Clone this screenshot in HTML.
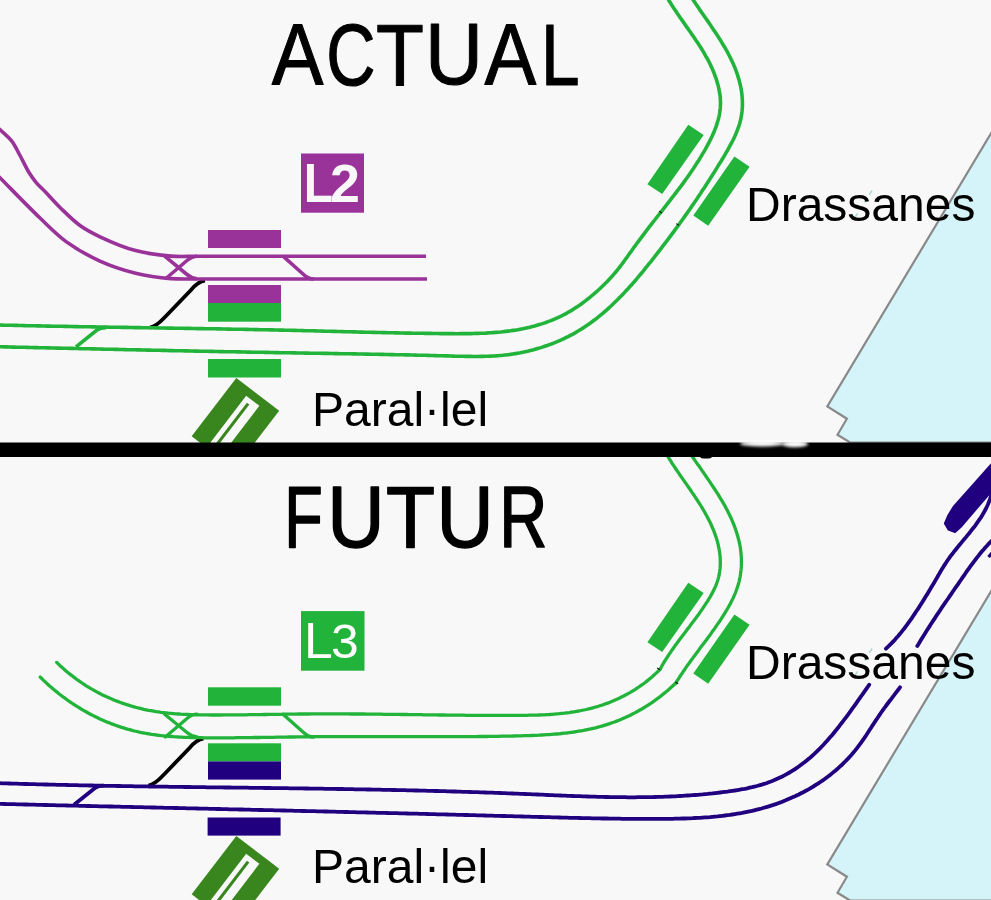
<!DOCTYPE html>
<html><head><meta charset="utf-8">
<style>
html,body{margin:0;padding:0;background:#f8f8f8;}
body{width:991px;height:900px;overflow:hidden;}
svg{display:block;will-change:transform;}
text{font-family:"Liberation Sans",sans-serif;}
</style></head>
<body>
<svg width="991" height="900" viewBox="0 0 991 900">
<defs>
  <g id="sea">
    <polygon points="993,130 827.3,406.4 846.9,418.7 837.5,434.8 850,442.5 993,442.5" fill="#d4f4fa" stroke="#898989" stroke-width="2.2"/>
  </g>
  <g id="drassPlat" fill="#22b33b">
    <polygon points="688.3,124.7 703.7,135 662.2,194 647.4,184.2"/>
    <polygon points="734.4,156.6 749.6,166.8 708.2,225.8 693.3,215.5"/>
  </g>
  <g id="icon">
    <g transform="translate(236.3,377.9) rotate(37.4)">
      <rect x="0" y="0" width="54" height="73.5" fill="#3a861e"/>
      <path d="M18.7 8.2 H35.3 V73.5 H26.6 V13.3 H23.5 V73.5 H18.7 Z" fill="#f8f8f8"/>
    </g>
  </g>
  <clipPath id="clipTop"><rect x="0" y="0" width="991" height="443"/></clipPath>
</defs>

<!-- ===== TOP HALF ===== -->
<use href="#sea"/>

<path d="M205 280.6 C199.5 281 196 284 191 290 L166 316 C161 321 157.5 326 150 327.6" fill="none" stroke="#000" stroke-width="3.8"/>
<g fill="none" stroke="#993399" stroke-width="3.6">
  <path d="M-3.0 127.0 C1.9 131.6 7.7 135.9 11.6 140.9 C15.2 145.5 17.2 150.4 20.0 155.5 C23.0 160.9 26.0 167.7 29.0 172.5 C31.4 176.3 33.4 179.2 36.0 182.3 C38.7 185.5 41.6 188.1 45.0 191.6 C49.4 196.2 54.5 202.1 60.0 207.5 C66.1 213.4 73.0 220.5 80.0 225.5 C86.4 230.1 92.2 233.1 100.0 236.8 C110.0 241.5 123.6 247.4 135.6 250.6 C147.3 253.7 159.8 255.2 171.1 256.1 C181.2 256.9 185.8 256.2 200.0 256.2 C239.7 256.3 350.7 256.2 426.0 256.2"/>
  <path d="M-3.0 174.7 C11.3 189.1 27.3 205.9 40.0 218.0 C49.6 227.2 56.5 234.6 66.1 241.6 C76.2 248.9 87.8 255.5 99.4 260.8 C111.0 266.1 123.5 270.2 135.6 273.2 C147.4 276.1 159.8 277.7 171.1 278.6 C181.2 279.4 185.8 278.9 200.0 279.0 C239.8 279.3 351.3 279.0 427.0 279.0"/>
  <path d="M164.7 256.2 L187 274.5 C190 277 193 278.6 197 278.8"/>
  <path d="M165.3 279 L187 260.5 C190 258 193 256.2 197 256.2"/>
  <path d="M283 256.2 L303 274 C306 277 309 279 314 279"/>
</g>

<g fill="none" stroke="#22b33b" stroke-width="3.6">
  <path d="M-3.0 325.0 L-0.5 325.0 L2.0 325.1 L4.5 325.2 L7.0 325.2 L9.5 325.3 L12.0 325.3 L14.5 325.4 L17.0 325.4 L19.5 325.5 L22.0 325.5 L24.5 325.6 L27.0 325.7 L29.5 325.7 L32.1 325.8 L34.6 325.8 L37.1 325.9 L39.6 325.9 L42.1 326.0 L44.6 326.0 L47.1 326.1 L49.6 326.1 L52.1 326.2 L54.6 326.2 L57.1 326.2 L59.6 326.3 L62.1 326.3 L64.6 326.4 L67.1 326.4 L69.6 326.5 L72.1 326.5 L74.6 326.6 L77.1 326.6 L79.7 326.7 L82.2 326.7 L84.7 326.7 L87.2 326.8 L89.7 326.8 L92.2 326.9 L94.7 326.9 L97.2 327.0 L99.7 327.0 L102.2 327.0 L104.7 327.1 L107.2 327.1 L109.7 327.2 L112.2 327.2 L114.7 327.2 L117.3 327.3 L119.8 327.3 L122.3 327.4 L124.8 327.4 L127.3 327.4 L129.8 327.5 L132.3 327.5 L134.8 327.6 L137.3 327.6 L139.8 327.6 L142.3 327.7 L144.8 327.7 L147.3 327.8 L149.8 327.8 L152.4 327.8 L154.9 327.9 L157.4 327.9 L159.9 328.0 L162.4 328.0 L164.9 328.0 L167.4 328.1 L169.9 328.1 L172.4 328.1 L174.9 328.2 L177.4 328.2 L179.9 328.3 L182.4 328.3 L184.9 328.4 L187.5 328.4 L190.0 328.4 L192.5 328.5 L195.0 328.5 L197.5 328.6 L200.0 328.6 L202.5 328.6 L205.0 328.7 L207.5 328.7 L210.0 328.8 L212.5 328.8 L215.0 328.8 L217.5 328.9 L220.0 328.9 L222.5 329.0 L225.1 329.0 L227.6 329.1 L230.1 329.1 L232.6 329.2 L235.1 329.2 L237.6 329.3 L240.1 329.3 L242.6 329.3 L245.1 329.4 L247.6 329.4 L250.1 329.5 L252.6 329.5 L255.1 329.6 L257.6 329.6 L260.1 329.7 L262.6 329.7 L265.1 329.8 L267.6 329.8 L270.1 329.9 L272.6 329.9 L275.2 330.0 L277.7 330.0 L280.2 330.1 L282.7 330.1 L285.2 330.2 L287.7 330.3 L290.2 330.3 L292.7 330.4 L295.2 330.4 L297.7 330.5 L300.2 330.5 L302.7 330.6 L305.2 330.7 L307.7 330.7 L310.2 330.8 L312.7 330.8 L315.2 330.9 L317.7 331.0 L320.2 331.0 L322.7 331.1 L325.2 331.2 L327.7 331.2 L330.2 331.3 L332.7 331.4 L335.2 331.4 L337.7 331.5 L340.2 331.5 L342.7 331.6 L345.2 331.7 L347.7 331.7 L350.2 331.8 L352.7 331.9 L355.2 331.9 L357.7 332.0 L360.2 332.1 L362.7 332.1 L365.2 332.2 L367.7 332.2 L370.2 332.3 L372.7 332.4 L375.2 332.4 L377.8 332.5 L380.3 332.5 L382.8 332.6 L385.3 332.6 L387.8 332.7 L390.3 332.8 L392.8 332.8 L395.3 332.9 L397.8 332.9 L400.3 333.0 L402.8 333.0 L405.3 333.1 L407.8 333.1 L410.3 333.1 L412.9 333.2 L415.4 333.2 L417.9 333.3 L420.4 333.3 L422.9 333.3 L425.4 333.4 L427.9 333.4 L430.5 333.4 L433.0 333.5 L435.5 333.5 L438.0 333.5 L440.5 333.6 L443.0 333.6 L445.6 333.6 L448.1 333.6 L450.6 333.6 L453.1 333.6 L455.6 333.7 L458.2 333.7 L460.7 333.6 L463.2 333.6 L465.7 333.6 L468.2 333.6 L470.8 333.6 L473.3 333.5 L475.8 333.4 L478.3 333.4 L480.8 333.3 L483.3 333.2 L485.8 333.1 L488.3 332.9 L490.8 332.8 L493.3 332.6 L495.8 332.4 L498.2 332.2 L500.7 332.0 L503.2 331.7 L505.6 331.4 L508.1 331.1 L510.6 330.8 L513.0 330.4 L515.4 330.1 L517.9 329.7 L520.3 329.2 L522.7 328.8 L525.1 328.3 L527.5 327.7 L529.9 327.2 L532.3 326.6 L534.7 326.0 L537.0 325.3 L539.4 324.6 L541.7 323.9 L544.1 323.1 L546.4 322.3 L548.7 321.4 L551.0 320.6 L553.3 319.6 L555.6 318.6 L557.8 317.6 L560.1 316.6 L562.3 315.5 L564.6 314.3 L566.8 313.1 L569.0 311.8 L571.2 310.6 L573.4 309.2 L575.5 307.8 L577.7 306.4 L579.8 305.0 L581.9 303.5 L584.0 301.9 L586.0 300.4 L588.1 298.8 L590.1 297.2 L592.1 295.5 L594.0 293.9 L596.0 292.2 L597.9 290.5 L599.8 288.7 L601.6 287.0 L603.4 285.2 L605.2 283.5 L607.0 281.7 L608.7 279.9 L610.4 278.1 L612.1 276.2 L613.7 274.4 L615.3 272.5 L616.9 270.6 L618.5 268.7 L620.0 266.7 L621.5 264.8 L622.9 262.8 L624.4 260.8 L625.8 258.8 L627.3 256.8 L628.7 254.8 L630.1 252.8 L631.6 250.8 L633.0 248.8 L634.4 246.8 L635.9 244.8 L637.3 242.8 L638.8 240.8 L640.3 238.8 L641.8 236.8 L643.3 234.8 L644.8 232.8 L646.3 230.8 L647.8 228.9 L649.3 226.9 L650.9 224.9 L652.4 222.9 L653.9 221.0 L655.5 219.0 L657.0 217.0 L658.6 215.0 L660.1 213.1 L661.7 211.1 L663.3 209.1 L664.8 207.1 L666.4 205.2 L667.9 203.2 L669.5 201.2 L671.0 199.2 L672.5 197.2 L674.1 195.2 L675.6 193.2 L677.1 191.2 L678.7 189.2 L680.2 187.2 L681.7 185.1 L683.2 183.1 L684.6 181.1 L686.1 179.0 L687.6 177.0 L689.0 174.9 L690.5 172.8 L691.9 170.7 L693.3 168.7 L694.7 166.6 L696.1 164.4 L697.4 162.3 L698.8 160.2 L700.1 158.1 L701.4 155.9 L702.7 153.7 L704.0 151.6 L705.3 149.4 L706.5 147.2 L707.7 144.9 L708.9 142.7 L710.0 140.5 L711.1 138.2 L712.2 136.0 L713.2 133.7 L714.2 131.4 L715.1 129.1 L716.0 126.8 L716.8 124.4 L717.5 122.1 L718.2 119.8 L718.8 117.4 L719.3 115.0 L719.7 112.7 L720.0 110.3 L720.3 107.9 L720.4 105.5 L720.5 103.1 L720.4 100.7 L720.3 98.2 L720.1 95.8 L719.7 93.4 L719.3 90.9 L718.8 88.5 L718.3 86.1 L717.6 83.7 L716.9 81.2 L716.2 78.8 L715.3 76.5 L714.4 74.1 L713.5 71.7 L712.5 69.4 L711.5 67.1 L710.4 64.8 L709.3 62.5 L708.1 60.2 L706.9 58.0 L705.6 55.8 L704.4 53.6 L703.1 51.4 L701.8 49.2 L700.4 47.1 L699.0 44.9 L697.7 42.8 L696.2 40.7 L694.8 38.6 L693.4 36.5 L691.9 34.4 L690.5 32.3 L689.0 30.2 L687.6 28.1 L686.1 26.1 L684.7 24.0 L683.2 21.9 L681.8 19.9 L680.3 17.8 L678.9 15.7 L677.5 13.7 L676.1 11.6 L674.7 9.5 L673.3 7.5 L672.0 5.4 L670.7 3.3 L669.4 1.2 L668.1 -0.9 L666.9 -3.0"/>
  <path d="M-3.0 346.7 L-0.5 346.8 L2.0 346.8 L4.5 346.9 L7.0 346.9 L9.5 347.0 L12.0 347.1 L14.5 347.1 L17.0 347.2 L19.6 347.2 L22.1 347.3 L24.6 347.3 L27.1 347.4 L29.6 347.5 L32.1 347.5 L34.6 347.6 L37.1 347.6 L39.6 347.7 L42.1 347.7 L44.6 347.8 L47.1 347.9 L49.6 347.9 L52.1 348.0 L54.6 348.0 L57.1 348.1 L59.6 348.1 L62.2 348.2 L64.7 348.3 L67.2 348.3 L69.7 348.4 L72.2 348.4 L74.7 348.5 L77.2 348.5 L79.7 348.6 L82.2 348.7 L84.7 348.7 L87.2 348.8 L89.7 348.8 L92.2 348.9 L94.7 348.9 L97.2 349.0 L99.7 349.0 L102.2 349.1 L104.7 349.2 L107.2 349.2 L109.7 349.3 L112.3 349.3 L114.8 349.4 L117.3 349.4 L119.8 349.5 L122.3 349.5 L124.8 349.6 L127.3 349.7 L129.8 349.7 L132.3 349.8 L134.8 349.8 L137.3 349.9 L139.8 349.9 L142.3 350.0 L144.8 350.0 L147.3 350.1 L149.8 350.1 L152.3 350.2 L154.8 350.2 L157.3 350.3 L159.9 350.3 L162.4 350.4 L164.9 350.4 L167.4 350.5 L169.9 350.6 L172.4 350.6 L174.9 350.7 L177.4 350.7 L179.9 350.8 L182.4 350.8 L184.9 350.9 L187.4 350.9 L189.9 351.0 L192.4 351.0 L194.9 351.1 L197.4 351.1 L199.9 351.2 L202.4 351.2 L204.9 351.3 L207.4 351.3 L210.0 351.4 L212.5 351.4 L215.0 351.5 L217.5 351.5 L220.0 351.6 L222.5 351.6 L225.0 351.7 L227.5 351.7 L230.0 351.7 L232.5 351.8 L235.0 351.8 L237.5 351.9 L240.0 351.9 L242.5 352.0 L245.0 352.0 L247.5 352.1 L250.0 352.1 L252.6 352.2 L255.1 352.2 L257.6 352.3 L260.1 352.3 L262.6 352.3 L265.1 352.4 L267.6 352.4 L270.1 352.5 L272.6 352.5 L275.1 352.6 L277.6 352.6 L280.1 352.7 L282.6 352.7 L285.1 352.7 L287.6 352.8 L290.1 352.8 L292.7 352.9 L295.2 352.9 L297.7 353.0 L300.2 353.0 L302.7 353.0 L305.2 353.1 L307.7 353.1 L310.2 353.2 L312.7 353.2 L315.2 353.2 L317.7 353.3 L320.2 353.3 L322.7 353.4 L325.2 353.4 L327.7 353.4 L330.3 353.5 L332.8 353.5 L335.3 353.6 L337.8 353.6 L340.3 353.7 L342.8 353.7 L345.3 353.7 L347.8 353.8 L350.3 353.8 L352.8 353.9 L355.3 353.9 L357.8 354.0 L360.3 354.0 L362.8 354.0 L365.3 354.1 L367.9 354.1 L370.4 354.2 L372.9 354.2 L375.4 354.3 L377.9 354.3 L380.4 354.4 L382.9 354.4 L385.4 354.5 L387.9 354.5 L390.4 354.6 L392.9 354.6 L395.4 354.7 L397.9 354.7 L400.4 354.8 L402.9 354.8 L405.4 354.9 L407.9 354.9 L410.4 355.0 L412.9 355.0 L415.5 355.1 L418.0 355.2 L420.5 355.2 L423.0 355.3 L425.5 355.3 L428.0 355.4 L430.5 355.5 L433.0 355.5 L435.5 355.6 L438.0 355.7 L440.5 355.7 L443.0 355.8 L445.5 355.9 L448.0 355.9 L450.5 356.0 L453.0 356.1 L455.5 356.2 L458.0 356.2 L460.5 356.3 L463.0 356.3 L465.5 356.4 L468.0 356.4 L470.5 356.4 L473.0 356.5 L475.5 356.5 L478.0 356.5 L480.5 356.4 L483.0 356.4 L485.5 356.3 L488.0 356.2 L490.5 356.1 L493.0 356.0 L495.5 355.9 L497.9 355.7 L500.4 355.5 L502.9 355.3 L505.4 355.0 L507.9 354.7 L510.4 354.4 L512.9 354.0 L515.4 353.6 L517.8 353.2 L520.3 352.8 L522.8 352.3 L525.3 351.7 L527.7 351.2 L530.2 350.6 L532.7 350.0 L535.1 349.3 L537.5 348.6 L540.0 347.9 L542.4 347.1 L544.8 346.3 L547.2 345.5 L549.6 344.6 L551.9 343.8 L554.3 342.8 L556.6 341.9 L559.0 340.9 L561.3 339.9 L563.6 338.8 L565.8 337.7 L568.1 336.6 L570.3 335.4 L572.5 334.3 L574.7 333.1 L576.9 331.8 L579.0 330.5 L581.1 329.2 L583.2 327.9 L585.3 326.5 L587.4 325.1 L589.4 323.7 L591.4 322.3 L593.4 320.8 L595.4 319.3 L597.3 317.8 L599.3 316.2 L601.2 314.7 L603.1 313.1 L605.0 311.4 L606.8 309.8 L608.7 308.1 L610.5 306.5 L612.3 304.8 L614.1 303.0 L615.9 301.3 L617.7 299.6 L619.4 297.8 L621.2 296.0 L622.9 294.2 L624.6 292.4 L626.3 290.5 L628.0 288.7 L629.7 286.8 L631.4 285.0 L633.0 283.1 L634.7 281.2 L636.3 279.3 L637.9 277.4 L639.6 275.4 L641.2 273.5 L642.8 271.6 L644.4 269.6 L645.9 267.7 L647.5 265.7 L649.1 263.7 L650.7 261.8 L652.2 259.8 L653.8 257.8 L655.3 255.8 L656.9 253.9 L658.4 251.9 L660.0 249.9 L661.5 247.9 L663.0 245.9 L664.5 243.9 L666.1 241.9 L667.6 239.9 L669.1 237.9 L670.6 235.9 L672.1 233.9 L673.6 231.9 L675.0 229.9 L676.5 227.8 L678.0 225.8 L679.5 223.8 L680.9 221.8 L682.4 219.7 L683.8 217.7 L685.3 215.6 L686.7 213.6 L688.2 211.5 L689.6 209.5 L691.0 207.4 L692.4 205.4 L693.9 203.3 L695.3 201.2 L696.7 199.2 L698.1 197.1 L699.5 195.0 L700.9 192.9 L702.2 190.8 L703.6 188.7 L705.0 186.7 L706.4 184.5 L707.7 182.4 L709.1 180.3 L710.4 178.2 L711.8 176.1 L713.1 174.0 L714.5 171.9 L715.8 169.7 L717.1 167.6 L718.4 165.4 L719.7 163.3 L721.1 161.2 L722.4 159.0 L723.7 156.8 L725.0 154.7 L726.2 152.5 L727.5 150.3 L728.7 148.1 L729.9 145.9 L731.1 143.7 L732.3 141.5 L733.4 139.3 L734.5 137.1 L735.5 134.8 L736.4 132.6 L737.3 130.3 L738.2 128.0 L739.0 125.7 L739.7 123.4 L740.3 121.0 L740.9 118.7 L741.3 116.3 L741.7 113.9 L742.0 111.5 L742.2 109.1 L742.4 106.6 L742.4 104.2 L742.4 101.7 L742.3 99.3 L742.1 96.8 L741.9 94.3 L741.6 91.9 L741.2 89.4 L740.7 87.0 L740.2 84.5 L739.6 82.1 L738.9 79.6 L738.2 77.2 L737.5 74.8 L736.7 72.5 L735.8 70.1 L734.9 67.7 L733.9 65.4 L732.9 63.1 L731.8 60.8 L730.7 58.5 L729.6 56.2 L728.4 54.0 L727.2 51.7 L725.9 49.5 L724.7 47.2 L723.3 45.0 L722.0 42.8 L720.7 40.6 L719.3 38.5 L717.9 36.3 L716.5 34.1 L715.1 32.0 L713.7 29.9 L712.2 27.8 L710.8 25.6 L709.4 23.5 L707.9 21.4 L706.5 19.4 L705.0 17.3 L703.6 15.2 L702.2 13.2 L700.7 11.1 L699.3 9.1 L698.0 7.1 L696.6 5.0 L695.2 3.0 L693.9 1.0 L692.6 -1.0 L691.3 -3.0"/>
  <path d="M106 327.6 C101 327.6 99 328.5 97 330 L76 346.8"/>
</g>

<rect x="208" y="230" width="73" height="18" fill="#993399"/>
<rect x="208" y="285" width="73" height="18" fill="#993399"/>
<rect x="208" y="303" width="73" height="18.7" fill="#22b33b"/>
<rect x="208" y="359" width="73" height="18.5" fill="#22b33b"/>
<use href="#drassPlat"/>

<rect x="301" y="153.5" width="63" height="59.2" fill="#993399"/>
<text transform="translate(303.69,201.90) scale(0.4794,0.5480)" font-size="100" font-weight="bold" fill="#f8f8f8">L</text><text transform="translate(329.93,201.90) scale(0.5380,0.5399)" font-size="100" font-weight="bold" fill="#f8f8f8">2</text>

<g clip-path="url(#clipTop)"><use href="#icon"/></g>

<g stroke="#a6ddd6" stroke-width="1.6" stroke-dasharray="5 4" fill="none">
  <path d="M872 190.5 L855 217.5"/>
  <path d="M872 648.5 L855 675.5"/>
</g>
<text transform="translate(271.85,84.70) scale(0.7752,0.8765)" font-size="100" fill="#000" stroke="#000" stroke-width="1.211" stroke-linejoin="round">A</text>
<text transform="translate(326.34,84.65) scale(0.6821,0.8743)" font-size="100" fill="#000" stroke="#000" stroke-width="1.285" stroke-linejoin="round">C</text>
<text transform="translate(375.94,84.50) scale(0.7852,0.8721)" font-size="100" fill="#000" stroke="#000" stroke-width="1.207" stroke-linejoin="round">T</text>
<text transform="translate(425.10,84.45) scale(0.8030,0.8742)" font-size="100" fill="#000" stroke="#000" stroke-width="1.192" stroke-linejoin="round">U</text>
<text transform="translate(484.45,84.50) scale(0.7767,0.8736)" font-size="100" fill="#000" stroke="#000" stroke-width="1.212" stroke-linejoin="round">A</text>
<text transform="translate(541.01,84.50) scale(0.6940,0.8750)" font-size="100" fill="#000" stroke="#000" stroke-width="1.275" stroke-linejoin="round">L</text>
<text x="746" y="221.2" font-size="48" fill="#000">Drassanes</text>
<text x="312" y="425.5" font-size="48" fill="#000">Paral·lel</text>

<!-- ===== BOTTOM HALF ===== -->
<path d="M205 280.6 C199.5 281 196 284 191 290 L166 316 C161 321 157.5 326 150 327.6" transform="translate(-1.5,458)" fill="none" stroke="#000" stroke-width="3.8"/>
<g fill="none" stroke="#20007f" stroke-width="3.8">
  <path d="M-3.0 783.1 L-0.5 783.2 L2.0 783.3 L4.5 783.4 L7.0 783.4 L9.5 783.5 L12.0 783.6 L14.5 783.7 L17.0 783.7 L19.5 783.8 L22.0 783.9 L24.5 784.0 L27.0 784.0 L29.5 784.1 L32.1 784.2 L34.6 784.2 L37.1 784.3 L39.6 784.4 L42.1 784.4 L44.6 784.5 L47.1 784.5 L49.6 784.6 L52.1 784.7 L54.6 784.7 L57.1 784.8 L59.6 784.8 L62.1 784.9 L64.6 784.9 L67.1 785.0 L69.6 785.1 L72.1 785.1 L74.6 785.2 L77.1 785.2 L79.6 785.3 L82.1 785.3 L84.6 785.4 L87.1 785.4 L89.6 785.5 L92.1 785.5 L94.6 785.6 L97.1 785.6 L99.6 785.7 L102.1 785.7 L104.7 785.8 L107.2 785.8 L109.7 785.8 L112.2 785.9 L114.7 785.9 L117.2 786.0 L119.7 786.0 L122.2 786.1 L124.7 786.1 L127.2 786.1 L129.7 786.2 L132.2 786.2 L134.7 786.3 L137.2 786.3 L139.7 786.3 L142.2 786.4 L144.7 786.4 L147.2 786.4 L149.7 786.5 L152.2 786.5 L154.7 786.6 L157.2 786.6 L159.7 786.6 L162.2 786.7 L164.7 786.7 L167.2 786.7 L169.7 786.8 L172.2 786.8 L174.7 786.8 L177.2 786.9 L179.7 786.9 L182.2 786.9 L184.7 787.0 L187.2 787.0 L189.7 787.0 L192.3 787.1 L194.8 787.1 L197.3 787.1 L199.8 787.2 L202.3 787.2 L204.8 787.2 L207.3 787.3 L209.8 787.3 L212.3 787.3 L214.8 787.3 L217.3 787.4 L219.8 787.4 L222.3 787.4 L224.8 787.5 L227.3 787.5 L229.8 787.5 L232.3 787.6 L234.8 787.6 L237.3 787.6 L239.8 787.7 L242.3 787.7 L244.8 787.7 L247.3 787.7 L249.8 787.8 L252.3 787.8 L254.8 787.8 L257.3 787.9 L259.8 787.9 L262.3 787.9 L264.8 788.0 L267.3 788.0 L269.8 788.0 L272.3 788.1 L274.8 788.1 L277.3 788.1 L279.8 788.1 L282.3 788.2 L284.8 788.2 L287.3 788.2 L289.9 788.3 L292.4 788.3 L294.9 788.3 L297.4 788.4 L299.9 788.4 L302.4 788.4 L304.9 788.5 L307.4 788.5 L309.9 788.6 L312.4 788.6 L314.9 788.6 L317.4 788.7 L319.9 788.7 L322.4 788.7 L324.9 788.8 L327.4 788.8 L329.9 788.8 L332.4 788.9 L334.9 788.9 L337.4 789.0 L339.9 789.0 L342.4 789.0 L344.9 789.1 L347.4 789.1 L349.9 789.2 L352.4 789.2 L354.9 789.3 L357.4 789.3 L359.9 789.3 L362.4 789.4 L364.9 789.4 L367.4 789.5 L369.9 789.5 L372.4 789.6 L374.9 789.6 L377.4 789.7 L379.9 789.7 L382.4 789.8 L384.9 789.8 L387.4 789.9 L390.0 789.9 L392.5 790.0 L395.0 790.0 L397.5 790.1 L400.0 790.1 L402.5 790.2 L405.0 790.2 L407.5 790.3 L410.0 790.4 L412.5 790.4 L415.0 790.5 L417.5 790.5 L420.0 790.6 L422.5 790.7 L425.0 790.7 L427.5 790.8 L430.0 790.8 L432.5 790.9 L435.0 791.0 L437.5 791.0 L440.0 791.1 L442.5 791.2 L445.0 791.2 L447.5 791.3 L450.0 791.4 L452.5 791.5 L455.0 791.5 L457.5 791.6 L460.0 791.7 L462.5 791.8 L465.0 791.8 L467.5 791.9 L470.0 792.0 L472.5 792.1 L475.0 792.1 L477.6 792.2 L480.1 792.3 L482.6 792.4 L485.1 792.5 L487.6 792.6 L490.1 792.7 L492.6 792.7 L495.1 792.8 L497.6 792.9 L500.1 793.0 L502.6 793.1 L505.1 793.2 L507.6 793.3 L510.1 793.4 L512.6 793.5 L515.1 793.6 L517.6 793.7 L520.1 793.8 L522.6 793.9 L525.1 794.0 L527.6 794.1 L530.1 794.2 L532.6 794.3 L535.1 794.4 L537.6 794.5 L540.1 794.6 L542.6 794.7 L545.1 794.9 L547.6 795.0 L550.1 795.1 L552.7 795.2 L555.2 795.3 L557.7 795.4 L560.2 795.5 L562.7 795.6 L565.2 795.7 L567.7 795.8 L570.2 795.9 L572.7 796.0 L575.2 796.1 L577.7 796.2 L580.2 796.2 L582.7 796.3 L585.2 796.4 L587.7 796.5 L590.2 796.6 L592.7 796.6 L595.2 796.7 L597.7 796.8 L600.2 796.8 L602.7 796.9 L605.2 797.0 L607.7 797.0 L610.2 797.1 L612.7 797.1 L615.2 797.1 L617.7 797.2 L620.2 797.2 L622.7 797.2 L625.2 797.2 L627.7 797.3 L630.2 797.3 L632.7 797.3 L635.2 797.3 L637.7 797.2 L640.2 797.2 L642.7 797.2 L645.2 797.2 L647.7 797.1 L650.2 797.1 L652.7 797.1 L655.2 797.0 L657.7 796.9 L660.2 796.9 L662.7 796.8 L665.2 796.7 L667.7 796.6 L670.2 796.5 L672.7 796.4 L675.2 796.3 L677.6 796.1 L680.1 796.0 L682.6 795.9 L685.1 795.7 L687.6 795.5 L690.1 795.4 L692.6 795.2 L695.1 795.0 L697.6 794.8 L700.1 794.6 L702.6 794.4 L705.1 794.1 L707.6 793.9 L710.0 793.6 L712.5 793.4 L715.0 793.1 L717.5 792.8 L720.0 792.5 L722.5 792.2 L725.0 791.9 L727.5 791.6 L729.9 791.2 L732.4 790.8 L734.9 790.5 L737.4 790.1 L739.9 789.7 L742.3 789.2 L744.8 788.8 L747.2 788.3 L749.7 787.7 L752.1 787.2 L754.5 786.6 L756.9 786.0 L759.3 785.3 L761.7 784.7 L764.0 783.9 L766.4 783.2 L768.7 782.3 L771.0 781.5 L773.3 780.6 L775.6 779.6 L777.8 778.6 L780.0 777.6 L782.3 776.5 L784.4 775.4 L786.6 774.2 L788.7 773.0 L790.9 771.7 L793.0 770.4 L795.0 769.1 L797.1 767.7 L799.1 766.3 L801.1 764.8 L803.1 763.3 L805.1 761.8 L807.0 760.2 L809.0 758.6 L810.9 757.0 L812.7 755.3 L814.6 753.6 L816.4 751.9 L818.2 750.1 L820.0 748.4 L821.8 746.5 L823.5 744.7 L825.2 742.8 L826.9 741.0 L828.6 739.0 L830.3 737.1 L832.0 735.2 L833.6 733.2 L835.2 731.2 L836.8 729.3 L838.4 727.3 L840.0 725.2 L841.5 723.2 L843.1 721.2 L844.6 719.2 L846.2 717.1 L847.7 715.1 L849.2 713.0 L850.7 711.0 L852.1 708.9 L853.6 706.9 L855.1 704.8 L856.5 702.8 L858.0 700.7 L859.4 698.7 L860.8 696.6 L862.3 694.6 L863.7 692.6 L865.1 690.6 L866.5 688.6 L867.9 686.7 L869.3 684.7" stroke-linecap="round"/>
  <path d="M886.0 648.7 L887.8 647.0 L889.6 645.2 L891.4 643.4 L893.1 641.6 L894.9 639.7 L896.5 637.8 L898.2 636.0 L899.8 634.0 L901.4 632.1 L902.9 630.1 L904.5 628.2 L906.0 626.2 L907.5 624.2 L908.9 622.2 L910.4 620.1 L911.8 618.1 L913.2 616.0 L914.6 613.9 L916.0 611.8 L917.4 609.7 L918.8 607.6 L920.1 605.5 L921.5 603.4 L922.8 601.3 L924.1 599.2 L925.4 597.0 L926.8 594.9 L928.1 592.7 L929.4 590.6 L930.6 588.5 L931.9 586.3 L933.2 584.2 L934.5 582.0 L935.7 579.9 L937.0 577.7 L938.2 575.5 L939.5 573.4 L940.7 571.2 L942.0 569.1 L943.3 567.0 L944.6 564.9 L946.0 562.8 L947.3 560.7 L948.8 558.7 L950.2 556.7 L951.7 554.7 L953.3 552.7 L954.8 550.7 L956.4 548.7 L958.0 546.8 L959.6 544.8 L961.2 542.9 L962.8 540.9 L964.4 539.0 L966.0 537.1 L967.6 535.1 L969.2 533.2 L970.8 531.2 L972.3 529.2 L973.9 527.3 L975.4 525.3 L976.9 523.2 L978.3 521.2 L979.7 519.2 L981.1 517.1 L982.4 515.0 L983.6 512.8 L984.8 510.7 L986.0 508.5 L987.1 506.3 L988.1 504.0 L989.0 501.7 L989.9 499.3 L990.7 496.9 L991.4 494.5 L992.0 492.0" stroke-linecap="round"/>
  <path d="M-3.0 803.8 L-0.5 803.9 L2.0 803.9 L4.5 804.0 L7.0 804.1 L9.5 804.1 L12.0 804.2 L14.5 804.2 L17.0 804.3 L19.5 804.4 L22.0 804.4 L24.5 804.5 L27.0 804.5 L29.5 804.6 L32.0 804.7 L34.5 804.7 L37.0 804.8 L39.5 804.8 L42.0 804.9 L44.5 805.0 L47.0 805.0 L49.5 805.1 L52.0 805.1 L54.5 805.2 L57.0 805.3 L59.5 805.3 L62.0 805.4 L64.5 805.4 L67.0 805.5 L69.5 805.6 L72.0 805.6 L74.5 805.7 L77.0 805.7 L79.5 805.8 L82.0 805.8 L84.5 805.9 L87.0 806.0 L89.5 806.0 L92.0 806.1 L94.5 806.1 L97.0 806.2 L99.5 806.3 L102.0 806.3 L104.5 806.4 L107.0 806.4 L109.5 806.5 L112.0 806.5 L114.5 806.6 L117.0 806.7 L119.5 806.7 L122.0 806.8 L124.5 806.8 L127.0 806.9 L129.5 806.9 L132.0 807.0 L134.5 807.1 L137.0 807.1 L139.5 807.2 L142.0 807.2 L144.5 807.3 L147.0 807.4 L149.5 807.4 L152.0 807.5 L154.5 807.5 L157.0 807.6 L159.5 807.6 L162.0 807.7 L164.5 807.8 L167.0 807.8 L169.5 807.9 L172.1 807.9 L174.6 808.0 L177.1 808.0 L179.6 808.1 L182.1 808.2 L184.6 808.2 L187.1 808.3 L189.6 808.3 L192.1 808.4 L194.6 808.4 L197.1 808.5 L199.6 808.6 L202.1 808.6 L204.6 808.7 L207.1 808.7 L209.6 808.8 L212.1 808.9 L214.6 808.9 L217.1 809.0 L219.6 809.0 L222.1 809.1 L224.6 809.1 L227.1 809.2 L229.6 809.3 L232.1 809.3 L234.6 809.4 L237.1 809.4 L239.6 809.5 L242.1 809.5 L244.6 809.6 L247.1 809.7 L249.6 809.7 L252.1 809.8 L254.6 809.8 L257.1 809.9 L259.6 810.0 L262.1 810.0 L264.6 810.1 L267.2 810.1 L269.7 810.2 L272.2 810.2 L274.7 810.3 L277.2 810.4 L279.7 810.4 L282.2 810.5 L284.7 810.5 L287.2 810.6 L289.7 810.7 L292.2 810.7 L294.7 810.8 L297.2 810.8 L299.7 810.9 L302.2 811.0 L304.7 811.0 L307.2 811.1 L309.7 811.1 L312.2 811.2 L314.7 811.2 L317.2 811.3 L319.7 811.4 L322.2 811.4 L324.7 811.5 L327.2 811.5 L329.7 811.6 L332.2 811.7 L334.7 811.7 L337.2 811.8 L339.7 811.8 L342.2 811.9 L344.7 812.0 L347.2 812.0 L349.7 812.1 L352.2 812.1 L354.7 812.2 L357.2 812.3 L359.7 812.3 L362.2 812.4 L364.7 812.4 L367.2 812.5 L369.7 812.6 L372.2 812.6 L374.7 812.7 L377.2 812.8 L379.7 812.8 L382.2 812.9 L384.7 812.9 L387.2 813.0 L389.7 813.1 L392.2 813.1 L394.7 813.2 L397.2 813.2 L399.7 813.3 L402.2 813.4 L404.7 813.4 L407.2 813.5 L409.7 813.6 L412.2 813.6 L414.7 813.7 L417.2 813.7 L419.7 813.8 L422.2 813.9 L424.7 813.9 L427.2 814.0 L429.7 814.1 L432.2 814.1 L434.7 814.2 L437.2 814.3 L439.7 814.3 L442.2 814.4 L444.7 814.4 L447.2 814.5 L449.7 814.6 L452.2 814.6 L454.7 814.7 L457.2 814.8 L459.7 814.8 L462.2 814.9 L464.7 815.0 L467.2 815.0 L469.7 815.1 L472.2 815.2 L474.7 815.2 L477.2 815.3 L479.7 815.4 L482.2 815.4 L484.7 815.5 L487.2 815.6 L489.7 815.6 L492.2 815.7 L494.7 815.8 L497.2 815.8 L499.7 815.9 L502.2 816.0 L504.7 816.0 L507.2 816.1 L509.7 816.2 L512.2 816.2 L514.7 816.3 L517.2 816.4 L519.7 816.4 L522.2 816.5 L524.7 816.6 L527.2 816.6 L529.6 816.7 L532.1 816.8 L534.6 816.8 L537.1 816.9 L539.6 817.0 L542.1 817.0 L544.6 817.1 L547.1 817.2 L549.6 817.2 L552.1 817.3 L554.6 817.4 L557.1 817.4 L559.6 817.5 L562.1 817.6 L564.6 817.6 L567.1 817.7 L569.6 817.8 L572.1 817.8 L574.6 817.9 L577.1 817.9 L579.6 818.0 L582.1 818.1 L584.6 818.1 L587.1 818.2 L589.6 818.2 L592.1 818.3 L594.6 818.3 L597.1 818.4 L599.6 818.4 L602.1 818.5 L604.6 818.5 L607.1 818.5 L609.6 818.6 L612.1 818.6 L614.6 818.7 L617.1 818.7 L619.6 818.7 L622.1 818.8 L624.6 818.8 L627.1 818.8 L629.6 818.8 L632.1 818.8 L634.6 818.9 L637.1 818.9 L639.7 818.9 L642.2 818.9 L644.7 818.9 L647.2 818.9 L649.7 818.9 L652.2 818.9 L654.7 818.9 L657.3 818.9 L659.8 818.9 L662.3 818.9 L664.8 818.9 L667.3 818.8 L669.9 818.8 L672.4 818.8 L674.9 818.7 L677.4 818.7 L679.9 818.6 L682.4 818.5 L685.0 818.5 L687.5 818.4 L690.0 818.3 L692.5 818.2 L695.0 818.0 L697.5 817.9 L700.0 817.8 L702.5 817.6 L705.0 817.4 L707.5 817.3 L710.0 817.1 L712.5 816.8 L715.0 816.6 L717.5 816.4 L720.0 816.1 L722.5 815.8 L724.9 815.5 L727.4 815.2 L729.9 814.9 L732.4 814.5 L734.8 814.1 L737.3 813.7 L739.7 813.3 L742.2 812.9 L744.6 812.4 L747.0 811.9 L749.5 811.4 L751.9 810.9 L754.3 810.3 L756.7 809.7 L759.1 809.1 L761.5 808.5 L763.9 807.8 L766.3 807.1 L768.7 806.4 L771.1 805.6 L773.4 804.9 L775.8 804.1 L778.2 803.2 L780.5 802.4 L782.8 801.5 L785.1 800.6 L787.4 799.6 L789.7 798.6 L792.0 797.6 L794.3 796.6 L796.6 795.5 L798.8 794.5 L801.0 793.3 L803.2 792.2 L805.4 791.0 L807.6 789.8 L809.8 788.6 L811.9 787.3 L814.1 786.0 L816.2 784.7 L818.3 783.4 L820.3 782.0 L822.4 780.6 L824.4 779.2 L826.4 777.7 L828.4 776.2 L830.4 774.7 L832.3 773.1 L834.2 771.6 L836.1 770.0 L838.0 768.3 L839.8 766.7 L841.7 765.0 L843.5 763.2 L845.2 761.5 L847.0 759.7 L848.7 757.9 L850.4 756.1 L852.0 754.2 L853.6 752.3 L855.2 750.4 L856.8 748.4 L858.3 746.4 L859.8 744.4 L861.3 742.4 L862.7 740.3 L864.1 738.3 L865.6 736.2 L867.0 734.1 L868.3 731.9 L869.7 729.8 L871.1 727.7 L872.4 725.6 L873.8 723.5 L875.2 721.4 L876.6 719.3 L878.0 717.2 L879.4 715.1 L880.8 713.0 L882.2 711.0 L883.7 709.0 L885.1 707.0 L886.6 705.0 L888.1 703.0 L889.6 701.0 L891.1 699.1 L892.6 697.1 L894.1 695.2 L895.6 693.2 L897.1 691.2 L898.6 689.3 L900.0 687.3" stroke-linecap="round"/>
  <path d="M917.3 646.0 L918.6 643.9 L919.9 641.7 L921.2 639.6 L922.5 637.5 L923.9 635.3 L925.2 633.2 L926.5 631.1 L927.8 629.0 L929.2 626.9 L930.5 624.8 L931.8 622.7 L933.2 620.6 L934.6 618.6 L935.9 616.5 L937.3 614.4 L938.7 612.4 L940.1 610.3 L941.4 608.2 L942.8 606.2 L944.2 604.1 L945.6 602.1 L947.1 600.0 L948.5 598.0 L949.9 595.9 L951.3 593.9 L952.7 591.8 L954.1 589.7 L955.5 587.7 L957.0 585.6 L958.4 583.6 L959.8 581.5 L961.2 579.5 L962.6 577.4 L964.1 575.3 L965.5 573.3 L966.9 571.2 L968.4 569.2 L969.8 567.1 L971.3 565.1 L972.8 563.1 L974.3 561.1 L975.8 559.1 L977.3 557.1 L978.9 555.2 L980.4 553.2 L982.0 551.3 L983.7 549.4 L985.3 547.5 L987.0 545.7 L988.7 543.8 L990.4 542.0 L992.2 540.3 L994.0 538.5" stroke-linecap="round"/>
  <path d="M106 327.6 C101 327.6 99 328.5 97 330 L76 346.8" transform="translate(-2,458)"/>
</g>
<g transform="translate(0,458)"><use href="#sea"/></g>
<path d="M945 523.5 L948.2 515.8 L953.6 507 L994 461.5 L994 488 L960.5 527 L955 532 L948.5 529.5 Z" fill="#20007f" stroke="#20007f" stroke-width="2.2" stroke-linejoin="round"/>
<path d="M988.5 557 L992 553" stroke="#20007f" stroke-width="3.4"/>

<g fill="none" stroke="#22b33b" stroke-width="3.3" stroke-linejoin="round" stroke-linecap="round">
  <path d="M56.7 662.4 L58.5 664.1 L60.3 665.9 L62.2 667.6 L64.1 669.2 L66.0 670.9 L67.9 672.5 L69.9 674.1 L71.9 675.6 L73.8 677.2 L75.9 678.7 L77.9 680.2 L80.0 681.6 L82.0 683.0 L84.1 684.4 L86.2 685.8 L88.4 687.1 L90.5 688.4 L92.7 689.6 L94.9 690.9 L97.1 692.1 L99.3 693.2 L101.5 694.4 L103.8 695.5 L106.0 696.6 L108.3 697.6 L110.6 698.6 L112.9 699.6 L115.2 700.5 L117.5 701.4 L119.9 702.3 L122.2 703.1 L124.6 703.9 L126.9 704.7 L129.3 705.4 L131.7 706.2 L134.1 706.8 L136.5 707.5 L138.9 708.1 L141.3 708.7 L143.8 709.3 L146.2 709.8 L148.6 710.3 L151.1 710.7 L153.6 711.2 L156.0 711.6 L158.5 711.9 L160.9 712.3 L163.4 712.6 L165.9 712.9 L168.4 713.2 L170.9 713.4 L173.4 713.6 L175.8 713.8 L178.3 714.0 L180.8 714.2 L183.3 714.3 L185.8 714.4 L188.3 714.5 L190.9 714.6 L193.4 714.7 L195.9 714.8 L198.4 714.8 L200.9 714.9 L203.4 714.9 L205.9 714.9 L208.4 714.9 L210.9 715.0 L213.5 715.0 L216.0 715.0 L218.5 715.0 L221.0 715.0 L223.5 714.9 L226.0 714.9 L228.5 714.9 L231.1 714.9 L233.6 714.9 L236.1 714.9 L238.6 714.8 L241.1 714.8 L243.6 714.8 L246.1 714.8 L248.6 714.7 L251.1 714.7 L253.6 714.7 L256.2 714.6 L258.7 714.6 L261.2 714.6 L263.7 714.5 L266.2 714.5 L268.7 714.4 L271.2 714.4 L273.7 714.4 L276.2 714.3 L278.7 714.3 L281.2 714.3 L283.7 714.2 L286.2 714.2 L288.7 714.2 L291.3 714.1 L293.8 714.1 L296.3 714.1 L298.8 714.0 L301.3 714.0 L303.8 714.0 L306.3 714.0 L308.8 714.0 L311.3 713.9 L313.8 713.9 L316.3 713.9 L318.8 713.9 L321.3 713.9 L323.8 713.9 L326.3 713.9 L328.8 713.9 L331.3 713.9 L333.8 713.9 L336.3 713.9 L338.8 713.9 L341.3 713.9 L343.8 713.9 L346.3 713.9 L348.8 713.9 L351.3 714.0 L353.8 714.0 L356.4 714.0 L358.9 714.0 L361.4 714.0 L363.9 714.0 L366.4 714.1 L368.9 714.1 L371.4 714.1 L373.9 714.1 L376.4 714.2 L378.9 714.2 L381.4 714.2 L383.9 714.3 L386.4 714.3 L388.9 714.3 L391.4 714.3 L393.9 714.4 L396.4 714.4 L398.9 714.4 L401.4 714.5 L403.9 714.5 L406.4 714.5 L408.9 714.6 L411.4 714.6 L413.9 714.6 L416.4 714.7 L418.9 714.7 L421.4 714.7 L423.9 714.8 L426.5 714.8 L429.0 714.8 L431.5 714.9 L434.0 714.9 L436.5 714.9 L439.0 715.0 L441.5 715.0 L444.0 715.0 L446.5 715.1 L449.0 715.1 L451.5 715.1 L454.0 715.1 L456.5 715.2 L459.0 715.2 L461.5 715.2 L464.0 715.2 L466.6 715.3 L469.1 715.3 L471.6 715.3 L474.1 715.3 L476.6 715.3 L479.1 715.4 L481.6 715.4 L484.1 715.4 L486.6 715.4 L489.1 715.4 L491.7 715.4 L494.2 715.4 L496.7 715.4 L499.2 715.4 L501.7 715.4 L504.2 715.4 L506.7 715.4 L509.2 715.4 L511.7 715.4 L514.3 715.4 L516.8 715.4 L519.3 715.4 L521.8 715.4 L524.3 715.3 L526.8 715.3 L529.3 715.2 L531.9 715.2 L534.4 715.1 L536.9 715.1 L539.4 715.0 L541.9 714.9 L544.4 714.8 L546.9 714.6 L549.4 714.5 L551.9 714.3 L554.3 714.1 L556.8 713.9 L559.3 713.7 L561.8 713.4 L564.3 713.2 L566.7 712.9 L569.2 712.6 L571.6 712.2 L574.1 711.8 L576.5 711.4 L579.0 711.0 L581.4 710.5 L583.8 710.0 L586.3 709.5 L588.7 708.9 L591.1 708.3 L593.5 707.7 L595.9 707.0 L598.2 706.3 L600.6 705.5 L603.0 704.8 L605.3 703.9 L607.7 703.1 L610.0 702.2 L612.3 701.2 L614.6 700.2 L616.9 699.2 L619.2 698.2 L621.4 697.1 L623.7 696.0 L625.9 694.8 L628.1 693.6 L630.3 692.4 L632.4 691.1 L634.6 689.8 L636.7 688.4 L638.8 687.0 L640.8 685.6 L642.9 684.2 L644.9 682.7 L646.9 681.1 L648.8 679.6 L650.8 677.9 L652.7 676.3 L654.6 674.6 L656.4 672.9 L658.2 671.2 L660.0 669.4"/>
  <path d="M660.0 669.4 L661.2 667.2 L662.4 665.0 L663.7 662.9 L665.0 660.7 L666.3 658.6 L667.7 656.5 L669.1 654.4 L670.5 652.3 L671.9 650.2 L673.3 648.2 L674.8 646.1 L676.3 644.1 L677.8 642.0 L679.3 640.0 L680.8 638.0 L682.3 636.0 L683.9 633.9 L685.4 631.9 L686.9 629.9 L688.5 627.9 L690.0 625.9 L691.5 623.8 L693.1 621.8 L694.6 619.8 L696.1 617.8 L697.6 615.7 L699.1 613.7 L700.5 611.6 L702.0 609.5 L703.4 607.4 L704.8 605.3 L706.2 603.2 L707.6 601.1 L708.9 598.9 L710.2 596.8 L711.4 594.6 L712.6 592.4 L713.8 590.1 L714.8 587.9 L715.8 585.6 L716.7 583.3 L717.5 581.0 L718.2 578.6 L718.8 576.3 L719.3 573.9 L719.7 571.4 L720.0 569.0 L720.2 566.5 L720.3 564.0 L720.3 561.6 L720.2 559.1 L720.1 556.6 L719.8 554.1 L719.5 551.6 L719.1 549.2 L718.6 546.7 L718.1 544.3 L717.5 541.9 L716.8 539.5 L716.0 537.1 L715.2 534.8 L714.4 532.4 L713.5 530.1 L712.5 527.8 L711.5 525.5 L710.5 523.2 L709.4 521.0 L708.2 518.7 L707.1 516.5 L705.8 514.3 L704.6 512.0 L703.3 509.8 L702.0 507.6 L700.7 505.5 L699.3 503.3 L697.9 501.1 L696.5 499.0 L695.1 496.8 L693.7 494.7 L692.2 492.6 L690.8 490.5 L689.3 488.3 L687.8 486.2 L686.4 484.1 L684.9 482.0 L683.4 479.9 L682.0 477.9 L680.5 475.8 L679.1 473.7 L677.7 471.6 L676.2 469.5 L674.9 467.5 L673.5 465.4 L672.1 463.3 L670.8 461.2 L669.5 459.2 L668.3 457.1 L667.0 455.0"/>
  <path d="M40.2 677.1 L42.0 678.8 L43.8 680.6 L45.6 682.3 L47.5 684.0 L49.3 685.7 L51.2 687.3 L53.1 688.9 L55.0 690.5 L57.0 692.1 L58.9 693.7 L60.9 695.2 L62.9 696.8 L65.0 698.2 L67.0 699.7 L69.0 701.2 L71.1 702.6 L73.2 704.0 L75.3 705.3 L77.4 706.7 L79.6 708.0 L81.7 709.3 L83.9 710.6 L86.0 711.8 L88.2 713.0 L90.4 714.2 L92.7 715.4 L94.9 716.5 L97.1 717.6 L99.4 718.7 L101.7 719.7 L104.0 720.7 L106.3 721.7 L108.6 722.6 L110.9 723.6 L113.2 724.4 L115.5 725.3 L117.9 726.1 L120.2 726.9 L122.6 727.7 L125.0 728.4 L127.3 729.1 L129.7 729.7 L132.1 730.4 L134.5 731.0 L136.9 731.5 L139.3 732.1 L141.8 732.6 L144.2 733.0 L146.6 733.5 L149.1 733.9 L151.5 734.3 L154.0 734.6 L156.4 735.0 L158.9 735.3 L161.4 735.6 L163.8 735.8 L166.3 736.1 L168.8 736.3 L171.3 736.5 L173.8 736.7 L176.2 736.8 L178.7 737.0 L181.2 737.1 L183.7 737.3 L186.2 737.4 L188.7 737.4 L191.2 737.5 L193.7 737.6 L196.3 737.7 L198.8 737.7 L201.3 737.7 L203.8 737.8 L206.3 737.8 L208.8 737.8 L211.3 737.8 L213.8 737.8 L216.3 737.8 L218.9 737.8 L221.4 737.8 L223.9 737.8 L226.4 737.8 L228.9 737.8 L231.4 737.8 L233.9 737.8 L236.4 737.7 L238.9 737.7 L241.4 737.7 L243.9 737.7 L246.5 737.6 L249.0 737.6 L251.5 737.6 L254.0 737.5 L256.5 737.5 L259.0 737.5 L261.5 737.4 L264.0 737.4 L266.5 737.4 L269.0 737.3 L271.5 737.3 L274.0 737.3 L276.5 737.2 L279.0 737.2 L281.5 737.1 L284.0 737.1 L286.5 737.1 L289.0 737.0 L291.5 737.0 L294.0 737.0 L296.5 736.9 L299.0 736.9 L301.5 736.9 L304.0 736.8 L306.5 736.8 L309.0 736.8 L311.5 736.8 L314.0 736.7 L316.5 736.7 L319.0 736.7 L321.5 736.7 L324.0 736.7 L326.5 736.7 L329.0 736.7 L331.5 736.6 L334.0 736.6 L336.5 736.6 L339.0 736.6 L341.5 736.6 L344.0 736.6 L346.5 736.6 L348.9 736.6 L351.4 736.6 L353.9 736.6 L356.4 736.6 L358.9 736.6 L361.4 736.6 L363.9 736.6 L366.4 736.6 L368.9 736.6 L371.4 736.6 L373.9 736.6 L376.4 736.6 L378.9 736.6 L381.4 736.6 L383.9 736.6 L386.4 736.6 L388.9 736.6 L391.4 736.7 L393.9 736.7 L396.4 736.7 L398.9 736.7 L401.4 736.7 L403.9 736.7 L406.4 736.7 L408.9 736.7 L411.4 736.7 L413.9 736.7 L416.3 736.7 L418.8 736.7 L421.3 736.7 L423.8 736.7 L426.3 736.7 L428.8 736.7 L431.3 736.7 L433.8 736.7 L436.3 736.7 L438.8 736.7 L441.3 736.7 L443.8 736.7 L446.3 736.7 L448.8 736.7 L451.3 736.7 L453.8 736.7 L456.3 736.7 L458.8 736.7 L461.3 736.7 L463.9 736.7 L466.4 736.6 L468.9 736.6 L471.4 736.6 L473.9 736.6 L476.4 736.6 L478.9 736.5 L481.4 736.5 L483.9 736.5 L486.4 736.5 L488.9 736.4 L491.4 736.4 L493.9 736.4 L496.4 736.3 L498.9 736.3 L501.4 736.2 L504.0 736.2 L506.5 736.1 L509.0 736.1 L511.5 736.1 L514.0 736.0 L516.5 735.9 L519.0 735.9 L521.5 735.8 L524.1 735.7 L526.6 735.7 L529.1 735.6 L531.6 735.5 L534.1 735.4 L536.6 735.3 L539.1 735.2 L541.6 735.0 L544.1 734.9 L546.6 734.7 L549.1 734.6 L551.6 734.4 L554.1 734.2 L556.6 734.0 L559.1 733.8 L561.5 733.5 L564.0 733.2 L566.5 733.0 L568.9 732.7 L571.4 732.3 L573.8 732.0 L576.3 731.6 L578.7 731.2 L581.2 730.8 L583.6 730.4 L586.0 729.9 L588.4 729.4 L590.8 728.9 L593.2 728.3 L595.6 727.8 L598.0 727.2 L600.4 726.5 L602.7 725.8 L605.1 725.1 L607.4 724.4 L609.8 723.6 L612.1 722.8 L614.4 722.0 L616.7 721.1 L619.0 720.2 L621.3 719.3 L623.6 718.3 L625.8 717.3 L628.1 716.2 L630.3 715.2 L632.5 714.1 L634.8 712.9 L636.9 711.7 L639.1 710.5 L641.3 709.3 L643.5 708.0 L645.6 706.7 L647.7 705.3 L649.8 704.0 L651.9 702.6 L654.0 701.1 L656.0 699.6 L658.1 698.1 L660.1 696.6 L662.1 695.0 L664.1 693.4 L666.1 691.8 L668.0 690.2 L669.9 688.5 L671.8 686.8 L673.7 685.0 L675.6 683.2"/>
  <path d="M675.6 683.3 L676.9 681.2 L678.3 679.1 L679.6 677.0 L681.0 674.9 L682.4 672.8 L683.8 670.7 L685.2 668.7 L686.6 666.6 L688.1 664.6 L689.6 662.5 L691.0 660.5 L692.5 658.5 L694.0 656.4 L695.5 654.4 L697.0 652.4 L698.5 650.4 L700.0 648.3 L701.5 646.3 L703.1 644.3 L704.6 642.3 L706.1 640.3 L707.6 638.2 L709.1 636.2 L710.6 634.2 L712.0 632.1 L713.5 630.1 L715.0 628.0 L716.4 625.9 L717.8 623.9 L719.3 621.8 L720.7 619.7 L722.0 617.6 L723.4 615.4 L724.7 613.3 L726.0 611.1 L727.3 609.0 L728.6 606.8 L729.8 604.6 L731.0 602.4 L732.1 600.1 L733.2 597.9 L734.2 595.6 L735.2 593.3 L736.1 591.0 L736.9 588.7 L737.7 586.3 L738.4 584.0 L739.1 581.6 L739.6 579.2 L740.1 576.7 L740.5 574.3 L740.8 571.8 L741.1 569.4 L741.3 566.9 L741.4 564.4 L741.4 561.9 L741.4 559.5 L741.3 557.0 L741.1 554.5 L740.9 552.0 L740.6 549.6 L740.2 547.1 L739.8 544.7 L739.3 542.3 L738.7 539.9 L738.1 537.5 L737.4 535.1 L736.7 532.7 L735.9 530.4 L735.1 528.0 L734.2 525.7 L733.3 523.4 L732.4 521.1 L731.4 518.8 L730.3 516.5 L729.2 514.3 L728.1 512.0 L727.0 509.8 L725.8 507.6 L724.6 505.3 L723.3 503.1 L722.0 500.9 L720.7 498.8 L719.4 496.6 L718.1 494.4 L716.7 492.3 L715.3 490.1 L713.9 488.0 L712.5 485.9 L711.1 483.8 L709.7 481.6 L708.3 479.6 L706.8 477.5 L705.4 475.4 L704.0 473.3 L702.5 471.3 L701.1 469.2 L699.7 467.1 L698.2 465.1 L696.8 463.1 L695.4 461.1 L694.0 459.0 L692.7 457.0 L691.3 455.0"/>
  <g transform="translate(0,458)">
  <path d="M164.7 256.2 L187 274.5 C190 277 193 278.6 197 278.8"/>
  <path d="M165.3 279 L187 260.5 C190 258 193 256.2 197 256.2"/>
  <path d="M283 256.2 L303 274 C306 277 309 279 314 279"/>
  </g>
</g>

<rect x="208" y="687.3" width="73" height="18.4" fill="#22b33b"/>
<rect x="208" y="743.3" width="73" height="18.1" fill="#22b33b"/>
<rect x="208" y="761.4" width="73" height="18.2" fill="#20007f"/>
<rect x="207.6" y="817.5" width="73" height="18.1" fill="#20007f"/>
<g transform="translate(0,458)"><use href="#drassPlat"/></g>

<rect x="301" y="611.1" width="63.5" height="59.6" fill="#22b33b"/>
<text transform="translate(303.96,658.10) scale(0.5171,0.5073)" font-size="100" fill="#fff">L</text><text transform="translate(330.90,658.42) scale(0.4978,0.4901)" font-size="100" fill="#fff">3</text>

<g transform="translate(0,458)"><use href="#icon"/></g>

<text transform="translate(284.33,547.30) scale(0.6302,0.8663)" font-size="100" fill="#000" stroke="#000" stroke-width="1.871" stroke-linejoin="round">F</text>
<text transform="translate(327.27,547.16) scale(0.7942,0.8642)" font-size="100" fill="#000" stroke="#000" stroke-width="1.688" stroke-linejoin="round">U</text>
<text transform="translate(386.00,547.10) scale(0.8029,0.8634)" font-size="100" fill="#000" stroke="#000" stroke-width="1.680" stroke-linejoin="round">T</text>
<text transform="translate(436.40,547.25) scale(0.7907,0.8656)" font-size="100" fill="#000" stroke="#000" stroke-width="1.691" stroke-linejoin="round">U</text>
<text transform="translate(499.33,547.10) scale(0.6669,0.8634)" font-size="100" fill="#000" stroke="#000" stroke-width="1.830" stroke-linejoin="round">R</text>
<text x="746" y="679.4" font-size="48" fill="#000">Drassanes</text>
<text x="312" y="883" font-size="48" fill="#000">Paral·lel</text>


<!-- small ticks on tracks -->
<g stroke="#111" stroke-width="1.1">
  <path d="M659.2 211.2 L662 213.1"/>
  <path d="M676.2 223.6 L679 225.3"/>
  <path d="M657.2 668 L660 669.9"/>
  <path d="M675.4 682 L678.2 683.7"/>
</g>
<defs><filter id="blur2" x="-50%" y="-200%" width="200%" height="500%"><feGaussianBlur stdDeviation="1.6"/></filter></defs>
<rect x="0" y="442.5" width="991" height="14.5" fill="#000"/>
<g filter="url(#blur2)" fill="#ffffff">
  <ellipse cx="762" cy="443.5" rx="22" ry="3"/>
  <ellipse cx="795" cy="444" rx="13" ry="3.2"/>
</g>
<ellipse cx="706" cy="457" rx="6" ry="1.6" fill="#000"/>
</svg>
</body></html>
